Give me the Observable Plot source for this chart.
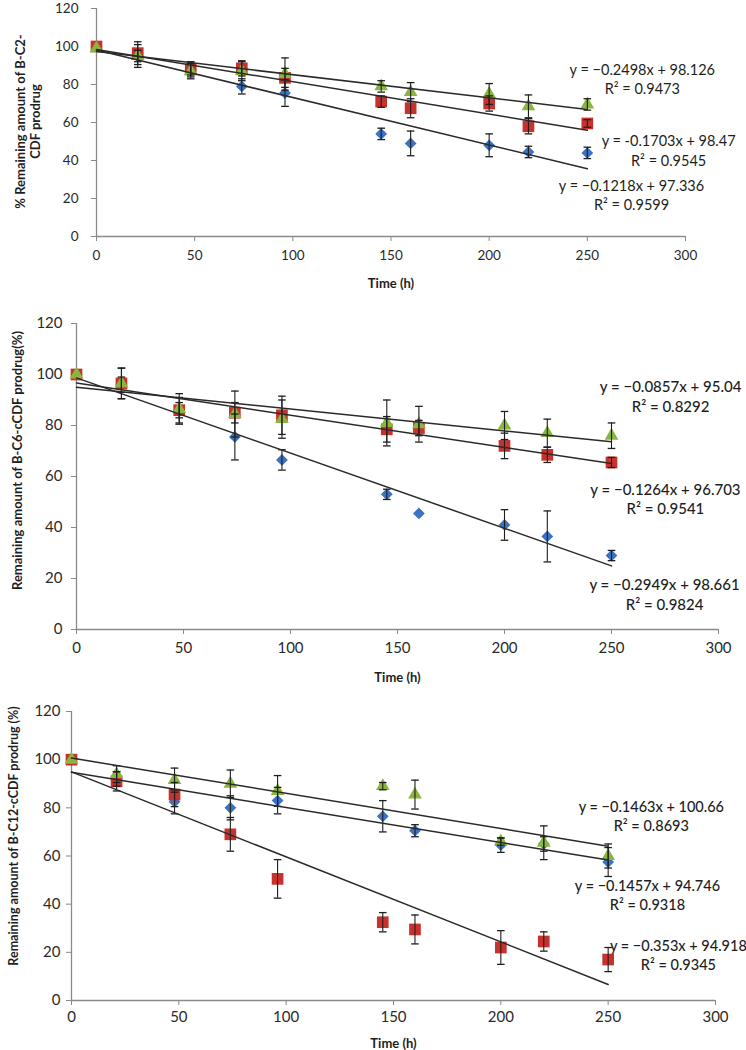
<!DOCTYPE html>
<html>
<head>
<meta charset="utf-8">
<script src="https://cdn.jsdelivr.net/npm/d3@7"></script>
<script src="https://cdn.jsdelivr.net/npm/@observablehq/plot@0.6"></script>
<style>
  body { margin: 0; background: #fff; }
  #wrap { position: relative; width: 746px; height: 1050px; overflow: hidden; }
  #wrap svg { position: absolute; left: 0; }
</style>
</head>
<body>
<div id="wrap"></div>
<script>
// ---------- data ----------
const times = [0, 21, 48, 74, 96, 145, 160, 200, 220, 250];
const xTicks = [0, 50, 100, 150, 200, 250, 300];
const yTicks = [0, 20, 40, 60, 80, 100, 120];
const seriesNames = ["blue", "red", "green"];

// Panel 1: B-C2-CDF
const c2Blue = [100, 95, 88, 79, 75.5, 54, 49, 48, 44.5, 44];
const c2BlueErr = [0, 3, 3, 4, 7, 3, 6.5, 6, 3, 3];
const c2Red = [100, 96.5, 88, 88.5, 83.5, 71, 67.5, 70, 58, 59.5];
const c2RedErr = [0, 6, 4, 4, 5, 3, 5, 4, 4, 2];
const c2Green = [99, 95, 87, 87, 85.5, 79, 76, 75, 68.5, 69.5];
const c2GreenErr = [0, 6, 4, 5, 8.5, 3, 5, 5.5, 6, 3];
const c2Slopes = [-0.2498, -0.1703, -0.1218];
const c2Intercepts = [98.126, 98.47, 97.336];
const c2Equations = ["y = −0.2498x + 98.126\nR² = 0.9473", "y = -0.1703x + 98.47\nR² = 0.9545", "y = −0.1218x + 97.336\nR² = 0.9599"];
const c2YLabel = "% Remaining amount of B-C2-\nCDF prodrug";

// Panel 2: B-C6-cCDF
const c6Blue = [100, 96, 86, 75.5, 66.5, 53, 45.5, 41, 36.5, 29];
const c6BlueErr = [0, 3, 3, 9, 4, 2, 0, 6, 10, 2];
const c6Red = [100, 96.5, 86, 85, 84, 78.5, 79, 72, 68.5, 65.5];
const c6RedErr = [0, 6, 5, 4, 7.5, 5, 3, 5, 3, 2];
const c6Green = [100, 96.5, 86.5, 84.5, 82.5, 81, 80.5, 80, 77, 76];
const c6GreenErr = [0, 6, 6, 9, 7.5, 9, 7, 5.5, 5.5, 5];
const c6Slopes = [-0.0857, -0.1264, -0.2949];
const c6Intercepts = [95.04, 96.703, 98.661];
const c6Equations = ["y = −0.0857x + 95.04\nR² = 0.8292", "y = −0.1264x + 96.703\nR² = 0.9541", "y = −0.2949x + 98.661\nR² = 0.9824"];
const c6YLabel = "Remaining amount of B-C6-cCDF prodrug(%)";

// Panel 3: B-C12-cCDF
const c12Blue = [100, 92, 82.5, 80, 83, 76.5, 70.5, 64.5, 65, 57.5];
const c12BlueErr = [0, 3, 5, 5, 5.5, 6.5, 2.5, 3, 3, 6];
const c12Red = [100, 91, 85.5, 69, 50.5, 32.5, 29.5, 22, 24.5, 17];
const c12RedErr = [0, 4, 5, 7, 8, 4, 6, 7, 4, 5];
const c12Green = [100, 94, 91.5, 90, 87, 89, 85.5, 66, 65.5, 60];
const c12GreenErr = [0, 3.5, 5, 5.7, 6.4, 1.5, 6, 1.5, 7, 5];
const c12Slopes = [-0.1463, -0.1457, -0.353];
const c12Intercepts = [100.66, 94.746, 94.918];
const c12Equations = ["y = −0.1463x + 100.66\nR² = 0.8693", "y = −0.1457x + 94.746\nR² = 0.9318", "y = −0.353x + 94.918\nR² = 0.9345"];
const c12YLabel = "Remaining amount of B-C12-cCDF prodrug (%)";

const xLabel = "Time (h)";

// ---------- styling ----------
const colors = { blue: "#3b72c2", red: "#c8322c", green: "#8ab63e" };
const symbols = { blue: "diamond2", red: "square", green: "triangle" };
const radii = { blue: 5.3, red: 6.6, green: 5.1 };
const FONT = "Lato, 'Open Sans', sans-serif";

const cap = {
  draw(ctx, size) {
    const w = Math.sqrt(size / Math.PI);
    ctx.moveTo(-w, 0);
    ctx.lineTo(w, 0);
  }
};

function makePanel(p) {
  const vals = [p.blue, p.red, p.green];
  const errs = [p.blueErr, p.redErr, p.greenErr];
  const rows = [];
  seriesNames.forEach((s, k) => {
    times.forEach((t, i) => rows.push({ t, v: vals[k][i], e: errs[k][i], s }));
  });
  const t0 = times[0], t1 = times[times.length - 1];
  const fitRows = [];
  p.slopes.forEach((m, k) => {
    fitRows.push({ t: t0, v: m * t0 + p.intercepts[k], k });
    fitRows.push({ t: t1, v: m * t1 + p.intercepts[k], k });
  });
  const labelRows = p.equations.map((text, k) => ({ text, x: p.labelPos[k][0], y: p.labelPos[k][1] }));
  const errRows = rows.filter(d => d.e > 0);

  const marks = [
    Plot.ruleY([0], { stroke: "#8a8a8a", strokeWidth: 1.3 }),
    Plot.ruleX([0], { stroke: "#8a8a8a", strokeWidth: 1.3 }),
    Plot.axisX({ ticks: xTicks, tickSize: 5, tickPadding: p.xPad, stroke: "#8a8a8a", fill: "#2a2a2a", fontSize: p.tickFont, label: null, tickFormat: d => String(d) }),
    Plot.axisY({ ticks: yTicks, tickSize: 5, tickPadding: p.yPad, stroke: "#8a8a8a", fill: "#2a2a2a", fontSize: p.tickFont, label: null, tickFormat: d => String(d) }),
  ];
  seriesNames.forEach(s => {
    marks.push(Plot.dot(rows.filter(d => d.s === s), { x: "t", y: "v", symbol: symbols[s], r: radii[s], fill: colors[s] }));
  });
  marks.push(
    Plot.ruleX(errRows, { x: "t", y1: d => d.v - d.e, y2: d => d.v + d.e, stroke: "#1e1e1e", strokeWidth: 1.1 }),
    Plot.dot(errRows, { x: "t", y: d => d.v + d.e, symbol: cap, r: 3.8, stroke: "#1e1e1e", strokeWidth: 1.3, fill: "none" }),
    Plot.dot(errRows, { x: "t", y: d => d.v - d.e, symbol: cap, r: 3.8, stroke: "#1e1e1e", strokeWidth: 1.3, fill: "none" }),
    Plot.line(fitRows, { x: "t", y: "v", z: "k", stroke: "#2a2a2a", strokeWidth: 1.5 }),
    Plot.text(labelRows, { x: "x", y: "y", text: "text", textAnchor: "middle", lineAnchor: "middle", lineHeight: 1.32, fontSize: p.eqFont, fill: "#1e1e1e", fontWeight: p.eqWeight }),
    Plot.text([p.yLabel], { frameAnchor: "left", rotate: -90, dx: p.yLabelDx, dy: p.yLabelDy, textAnchor: "middle", lineAnchor: "middle", lineHeight: 1.15, fontSize: p.yLabelFont, fontWeight: "bold", fill: "#1e1e1e" }),
    Plot.text([xLabel], { frameAnchor: "bottom", dy: p.xLabelDy, lineAnchor: "middle", textAnchor: "middle", fontSize: 13, fontWeight: "bold", fill: "#1e1e1e" })
  );

  const svg = Plot.plot({
    width: 746,
    height: p.height,
    marginLeft: p.ml, marginRight: p.mr, marginTop: p.mt, marginBottom: p.mb,
    x: { domain: [0, 300] },
    y: { domain: [0, 120] },
    style: { fontFamily: FONT, background: "transparent", overflow: "visible" },
    marks
  });
  svg.style.top = p.top + "px";
  document.getElementById("wrap").appendChild(svg);
}

makePanel({
  top: 0, height: 300, ml: 96, mr: 61, mt: 8, mb: 64,
  blue: c2Blue, blueErr: c2BlueErr, red: c2Red, redErr: c2RedErr, green: c2Green, greenErr: c2GreenErr,
  slopes: c2Slopes, intercepts: c2Intercepts, equations: c2Equations,
  labelPos: [[278, 83], [291.4, 45.6], [272.5, 22]],
  yLabel: c2YLabel, yLabelDx: -68.5, yLabelDy: -1, yLabelFont: 13,
  xLabelDy: 47, xPad: 9, yPad: 13, tickFont: 13.5, eqFont: 14.5, eqWeight: "normal"
});

makePanel({
  top: 300, height: 390, ml: 76, mr: 28, mt: 23, mb: 61,
  blue: c6Blue, blueErr: c6BlueErr, red: c6Red, redErr: c6RedErr, green: c6Green, greenErr: c6GreenErr,
  slopes: c6Slopes, intercepts: c6Intercepts, equations: c6Equations,
  labelPos: [[277.6, 91.8], [275.2, 51.5], [274.8, 14.1]],
  yLabel: c6YLabel, yLabelDx: -59, yLabelDy: -16, yLabelFont: 13,
  xLabelDy: 48, xPad: 8, yPad: 9, tickFont: 15, eqFont: 15, eqWeight: "500"
});

makePanel({
  top: 690, height: 360, ml: 71, mr: 31, mt: 21, mb: 50,
  blue: c12Blue, blueErr: c12BlueErr, red: c12Red, redErr: c12RedErr, green: c12Green, greenErr: c12GreenErr,
  slopes: c12Slopes, intercepts: c12Intercepts, equations: c12Equations,
  labelPos: [[270.1, 76.8], [268.3, 44], [282.7, 19.1]],
  yLabel: c12YLabel, yLabelDx: -58, yLabelDy: -20, yLabelFont: 12.5,
  xLabelDy: 43, xPad: 6, yPad: 6, tickFont: 15, eqFont: 14.5, eqWeight: "500"
});
</script>
</body>
</html>
